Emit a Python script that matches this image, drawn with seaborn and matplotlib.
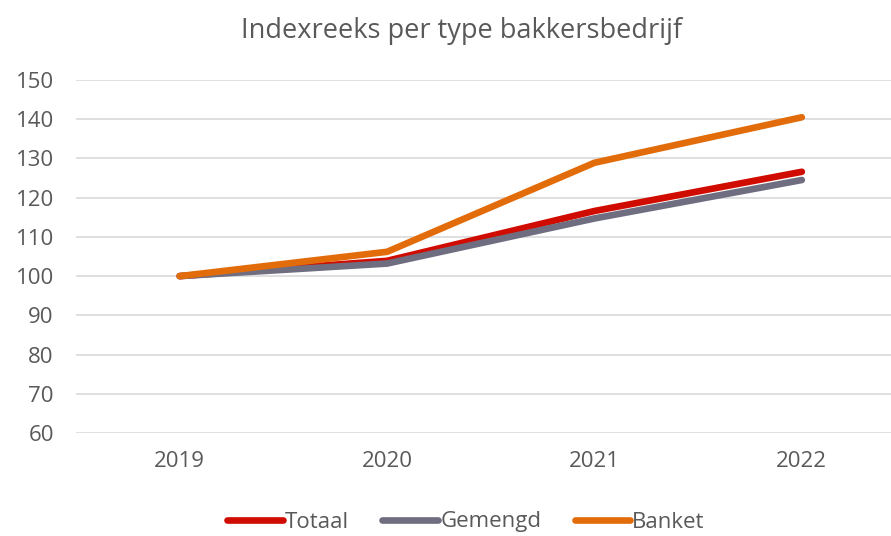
import matplotlib
matplotlib.use("Agg")
import matplotlib.pyplot as plt
import seaborn as sns
import pandas as pd

years = ["2019", "2020", "2021", "2022"]
totaal = [100, 103.9, 116.6, 126.6]
gemengd = [100, 103.2, 114.7, 124.5]
banket = [100, 106.2, 128.9, 140.5]

series = {"Totaal": totaal, "Gemengd": gemengd, "Banket": banket}
palette = {"Totaal": "#D00C00", "Gemengd": "#6F6E80", "Banket": "#E36C0A"}

df = pd.DataFrame(series, index=years).reset_index(names="jaar")
df = df.melt(id_vars="jaar", var_name="type", value_name="index")
df["pos"] = df["jaar"].map({y: i for i, y in enumerate(years)})

sns.set_style("white")
plt.rcParams["font.family"] = ["Open Sans", "DejaVu Sans"]

fig = plt.figure(figsize=(8.91, 5.36), dpi=100)
ax = fig.add_axes([76 / 891, (536 - 433) / 536, (891 - 76) / 891, (433 - 80) / 536])

sns.lineplot(data=df, x="pos", y="index", hue="type", palette=palette,
             linewidth=4.8, solid_capstyle="round", ax=ax, legend=False)

ax.set_xlim(-0.5, 3.43)
ax.set_ylim(60, 150)
ax.set_yticks(range(60, 151, 10))
ax.set_xticks(range(len(years)))
ax.set_xticklabels(years)
ax.yaxis.grid(True, color="#D9D9D9", linewidth=1.2)
ax.set_axisbelow(True)
for s in ax.spines.values():
    s.set_visible(False)
ax.set_xlabel("")
ax.set_ylabel("")
ax.tick_params(axis="both", length=0, labelsize=16, labelcolor="#595959")
ax.tick_params(axis="x", pad=13)
ax.tick_params(axis="y", pad=16)

fig.text(462 / 891, 1 - 31 / 536, "Indexreeks per type bakkersbedrijf",
         ha="center", va="center", fontsize=19.5, color="#595959")

handles = [plt.Line2D([], [], color=palette[k], linewidth=4.8, solid_capstyle="round")
           for k in series]
fig.legend(handles, list(series), loc="center", bbox_to_anchor=(466 / 891, 1 - 522 / 536),
           ncol=3, frameon=False, fontsize=16, labelcolor="#595959",
           handlelength=2.5, handletextpad=0.1, columnspacing=1.5)

fig.savefig("out.png", dpi=100)
